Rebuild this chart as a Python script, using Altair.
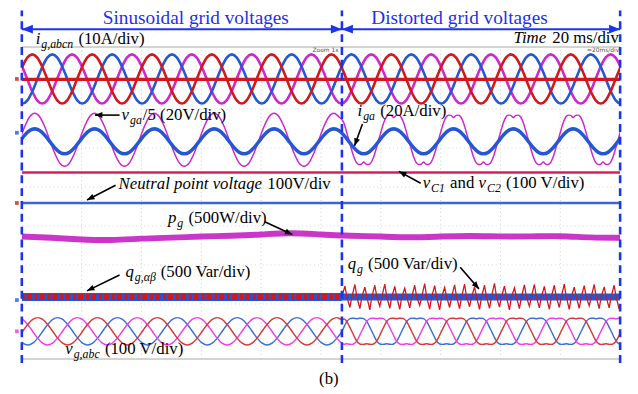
import math
import altair as alt
import pandas as pd

# ---------------- time / amplitude frame of the scope ----------------
T_END = 200.0          # 10 div x 20 ms/div
T_SWITCH = 107.0       # sinusoidal -> distorted grid voltages
PERIOD = 20.0          # 50 Hz fundamental
Q_RIPPLE_PERIOD = PERIOD / 6.0
N_DIV = 8.0

# page-pixel frame of the photographed scope (used only to place annotations)
X0, PX_PER_MS = 22.0, 606.0 / 200.0
Y_BOTTOM, PX_PER_DIV = 361.0, 39.5

# ---------------- one period of each wave shape ----------------
SINE_CYCLE = [0.0, 0.5, 0.87, 1.0, 0.87, 0.5, 0.0, -0.5, -0.87, -1.0, -0.87, -0.5]
VGA_DIST_CYCLE = [0.0, 0.33, 0.64, 0.85, 0.93, 0.92, 0.84, 0.92, 0.93, 0.85, 0.64, 0.33,
                  0.0, -0.33, -0.64, -0.85, -0.93, -0.92, -0.84, -0.92, -0.93, -0.85, -0.64, -0.33]
VG_DIST_CYCLE = [0.0, 0.38, 0.72, 0.9, 0.96, 0.95, 0.92, 0.95, 0.96, 0.9, 0.72, 0.38,
                 0.0, -0.38, -0.72, -0.9, -0.96, -0.95, -0.92, -0.95, -0.96, -0.9, -0.72, -0.38]

# ---------------- channel levels (div from bottom), amplitudes (div), peak times (ms) ----------------
I_CENTER, I_AMP = 7.18, 0.63
I_PEAK_A, I_PEAK_B, I_PEAK_C = 3.5, 10.2, 16.8
I_NEUTRAL = 7.17
VGA_CENTER, VGA_AMP, VGA_PEAK = 5.62, 0.68, 4.3
IGA_CENTER, IGA_AMP, IGA_PEAK = 5.58, 0.32, 4.3
VC_LEVEL = 4.78
NP_LEVEL = 4.0
PG_TIMES = [0, 10, 20, 30, 40, 50, 60, 70, 80, 90, 100, 110, 120, 130, 140, 150, 160, 170, 180, 190, 200]
PG_LEVELS = [3.14, 3.11, 3.06, 3.04, 3.09, 3.11, 3.14, 3.16, 3.19, 3.24, 3.19, 3.16, 3.14, 3.11,
             3.14, 3.16, 3.14, 3.14, 3.16, 3.11, 3.11]
Q_LEVEL = 1.59
Q_RIPPLE_UP = [0.28, 0.32, 0.25, 0.30, 0.33, 0.27, 0.22, 0.30, 0.34, 0.29, 0.24, 0.31, 0.33, 0.26,
               0.30, 0.35, 0.28, 0.23, 0.31, 0.32, 0.27, 0.30, 0.33, 0.25, 0.29, 0.32, 0.26, 0.30]
Q_RIPPLE_DOWN = [0.27, 0.30, 0.33, 0.24, 0.29, 0.32, 0.28, 0.22, 0.31, 0.33, 0.27, 0.30, 0.25, 0.32,
                 0.29, 0.26, 0.33, 0.30, 0.24, 0.28, 0.31, 0.27, 0.32, 0.29, 0.23, 0.30, 0.28, 0.31]
VG_CENTER, VG_AMP = 0.71, 0.35
VG_PEAK_A, VG_PEAK_B, VG_PEAK_C = 5.3, 12.0, 18.6

GRID_T = [20, 40, 60, 80, 100, 120, 140, 160, 180]
GRID_V = [0.41, 1.41, 2.41, 3.41, 4.41, 5.41, 6.41, 7.41]
SECTION_EDGES = [0.0, T_SWITCH, T_END]

# small channel markers at the left edge of the screen: (level, colour)
MARKER_LEVELS = [I_CENTER, 5.8, NP_LEVEL, Q_LEVEL - 0.08, VG_CENTER]
MARKER_COLORS = ["#d3171d", "#2456d6", "#d3171d", "#2456d6", "#e23ee0"]

RED = "#d3171d"
BLUE = "#2456d6"
MAGENTA = "#cf27cf"
PINK = "#f23ee6"
VC_COLOR = "#d81f5a"
DASH_BLUE = "#1a35f0"
TITLE_BLUE = "#1f2fe8"
FONT = "Liberation Serif"

XENC = alt.X("t:Q", scale=alt.Scale(domain=[0, T_END], nice=False, zero=False), axis=None)
YENC = alt.Y("v:Q", scale=alt.Scale(domain=[0, N_DIV], nice=False, zero=False), axis=None)


def px_t(px):
    return (px - X0) / PX_PER_MS


def py_v(py):
    return (Y_BOTTOM - py) / PX_PER_DIV


def periodic(shape, t_peak, center, amp, t_from, t_to, period=PERIOD):
    n = len(shape)
    step = period / n
    t0 = t_peak - period / 4.0
    rows = []
    m0 = math.floor((t_from - t0) / period) - 1
    m1 = math.ceil((t_to - t0) / period) + 1
    for m in range(m0, m1 + 1):
        for k, s in enumerate(shape):
            t = t0 + m * period + k * step
            if t_from <= t < t_to:
                rows.append({"t": t, "v": center + amp * s})
    return rows


def two_part(sine_shape, dist_shape, t_peak, center, amp):
    return (periodic(sine_shape, t_peak, center, amp, -6, T_SWITCH)
            + periodic(dist_shape, t_peak, center, amp, T_SWITCH, T_END + 6))


def line_layer(rows, color, width, interp="monotone", dash=None, opacity=1.0):
    kw = dict(color=color, strokeWidth=width, interpolate=interp, clip=True, opacity=opacity)
    if dash:
        kw["strokeDash"] = dash
    return alt.Chart(pd.DataFrame(rows)).mark_line(**kw).encode(x=XENC, y=YENC)


def flat(level, t_from, t_to):
    return [{"t": t_from, "v": level}, {"t": t_to, "v": level}]


layers = []

# dotted graticule and top / bottom frame lines
grid_v_df = pd.DataFrame({"t": GRID_T, "v": [0.0] * len(GRID_T), "v2": [N_DIV] * len(GRID_T)})
layers.append(alt.Chart(grid_v_df).mark_rule(color="#cfcfcf", strokeWidth=1, strokeDash=[1, 3])
              .encode(x=XENC, y=YENC, y2="v2:Q"))
grid_h_df = pd.DataFrame({"v": GRID_V, "t": [0.0] * len(GRID_V), "t2": [T_END] * len(GRID_V)})
layers.append(alt.Chart(grid_h_df).mark_rule(color="#d6d6d6", strokeWidth=1, strokeDash=[1, 3])
              .encode(x=XENC, x2="t2:Q", y=YENC))
frame_df = pd.DataFrame({"v": [0.0, N_DIV], "t": [0.0, 0.0], "t2": [T_END, T_END]})
layers.append(alt.Chart(frame_df).mark_rule(color="#c4c4c4", strokeWidth=1.5)
              .encode(x=XENC, x2="t2:Q", y=YENC))

# i_g,abcn
layers.append(line_layer(periodic(SINE_CYCLE, I_PEAK_C, I_CENTER, I_AMP, -6, T_END + 6), MAGENTA, 2.6))
layers.append(line_layer(periodic(SINE_CYCLE, I_PEAK_B, I_CENTER, I_AMP, -6, T_END + 6), BLUE, 2.6))
layers.append(line_layer(periodic(SINE_CYCLE, I_PEAK_A, I_CENTER, I_AMP, -6, T_END + 6), RED, 2.6))
layers.append(line_layer(flat(I_NEUTRAL, 0, T_END), RED, 3.2, interp="linear"))

# v_ga/5 and i_ga
layers.append(line_layer(two_part(SINE_CYCLE, VGA_DIST_CYCLE, VGA_PEAK, VGA_CENTER, VGA_AMP), MAGENTA, 1.5))
layers.append(line_layer(periodic(SINE_CYCLE, IGA_PEAK, IGA_CENTER, IGA_AMP, -6, T_END + 6), BLUE, 3.6))

# capacitor voltages and neutral point voltage
layers.append(line_layer(flat(VC_LEVEL, 0, T_END), VC_COLOR, 2.6, interp="linear"))
layers.append(line_layer(flat(NP_LEVEL, 0, T_END), "#3a66da", 2.6, interp="linear"))

# p_g
layers.append(line_layer([{"t": a, "v": b} for a, b in zip(PG_TIMES, PG_LEVELS)], "#c41fc4", 6,
                         interp="basis", opacity=0.9))

# q_g
layers.append(line_layer(flat(Q_LEVEL, 0, T_SWITCH), BLUE, 8, interp="linear"))
layers.append(line_layer(flat(Q_LEVEL, 0, T_SWITCH), RED, 6, interp="linear", dash=[3, 2, 5, 3]))
layers.append(line_layer(flat(Q_LEVEL, T_SWITCH, T_END), BLUE, 7, interp="linear"))
q_rows = []
for i, (up, dn) in enumerate(zip(Q_RIPPLE_UP, Q_RIPPLE_DOWN)):
    tc = T_SWITCH + i * Q_RIPPLE_PERIOD
    q_rows += [{"t": tc, "v": Q_LEVEL},
               {"t": tc + Q_RIPPLE_PERIOD * 0.3, "v": Q_LEVEL + up},
               {"t": tc + Q_RIPPLE_PERIOD * 0.5, "v": Q_LEVEL},
               {"t": tc + Q_RIPPLE_PERIOD * 0.8, "v": Q_LEVEL - dn}]
layers.append(line_layer(q_rows, RED, 1.3, interp="linear"))

# v_g,abc
layers.append(line_layer(two_part(SINE_CYCLE, VG_DIST_CYCLE, VG_PEAK_B, VG_CENTER, VG_AMP), "#3d6fd9", 1.5))
layers.append(line_layer(two_part(SINE_CYCLE, VG_DIST_CYCLE, VG_PEAK_C, VG_CENTER, VG_AMP), PINK, 1.5))
layers.append(line_layer(two_part(SINE_CYCLE, VG_DIST_CYCLE, VG_PEAK_A, VG_CENTER, VG_AMP), "#d63a3a", 1.5))

# channel markers
mk_df = pd.DataFrame({"t": [px_t(17)] * len(MARKER_LEVELS), "v": MARKER_LEVELS, "c": MARKER_COLORS})
layers.append(alt.Chart(mk_df).mark_square(size=14, opacity=0.8)
              .encode(x=XENC, y=YENC, color=alt.Color("c:N", scale=None)))

# section dashed lines
dash_df = pd.DataFrame({"t": SECTION_EDGES, "v": [py_v(365)] * 3, "v2": [py_v(8)] * 3})
layers.append(alt.Chart(dash_df).mark_rule(color=DASH_BLUE, strokeWidth=2.6, strokeDash=[8, 5])
              .encode(x=XENC, y=YENC, y2="v2:Q"))

# double arrows over the two sections
ARROW_Y = py_v(27)
barrow_df = pd.DataFrame({"t": [0.0, T_SWITCH], "t2": [T_SWITCH, T_END], "v": [ARROW_Y, ARROW_Y]})
layers.append(alt.Chart(barrow_df).mark_rule(color=DASH_BLUE, strokeWidth=2)
              .encode(x=XENC, x2="t2:Q", y=YENC))
HEAD = "M0,0L-0.4,1L0.4,1Z"
bhead_df = pd.DataFrame({"t": [0.0, T_SWITCH, T_SWITCH, T_END],
                         "v": [ARROW_Y] * 4, "ang": [270, 90, 270, 90]})
layers.append(alt.Chart(bhead_df).mark_point(shape=HEAD, filled=True, size=500, color=DASH_BLUE, opacity=1)
              .encode(x=XENC, y=YENC, angle=alt.Angle("ang:Q", scale=None)))

# black pointer arrows (tail -> tip, page pixels)
ARROWS = [(121, 114, 96, 114), (367, 123, 359, 145), (426, 183, 404, 171), (117, 185, 88, 200),
          (268, 222, 296, 235), (121, 276, 88, 292), (466, 268, 485, 290)]
ar_rows, ah_rows = [], []
for x1, y1, x2, y2 in ARROWS:
    ar_rows.append({"t": px_t(x1), "v": py_v(y1), "t2": px_t(x2), "v2": py_v(y2)})
    ang = math.degrees(math.atan2(x2 - x1, -(y2 - y1))) % 360
    ah_rows.append({"t": px_t(x2), "v": py_v(y2), "ang": ang})
layers.append(alt.Chart(pd.DataFrame(ar_rows)).mark_rule(color="black", strokeWidth=1.6)
              .encode(x=XENC, y=YENC, x2="t2:Q", y2="v2:Q"))
layers.append(alt.Chart(pd.DataFrame(ah_rows)).mark_point(shape=HEAD, filled=True, size=230, color="black", opacity=1)
              .encode(x=XENC, y=YENC, angle=alt.Angle("ang:Q", scale=None)))

# ---------------- text ----------------
REG_W = {' ': 0.25, '(': 0.333, ')': 0.333, '/': 0.278, 'A': 0.722, 'V': 0.722, 'W': 0.944,
         'a': 0.444, 'd': 0.5, 'i': 0.278, 'v': 0.5, 'n': 0.5, 'm': 0.778, 's': 0.389, 'r': 0.333}
IT_W = {'i': 0.278, 'g': 0.5, ',': 0.25, 'a': 0.5, 'b': 0.5, 'c': 0.444, 'n': 0.5, 'v': 0.444,
        'p': 0.5, 'q': 0.5, 'C': 0.667, 'N': 0.667, 'e': 0.444, 'u': 0.5, 't': 0.278, 'r': 0.389,
        'l': 0.278, 'o': 0.5, 'T': 0.556, 'm': 0.722, ' ': 0.25, 'α': 0.5, 'β': 0.5}
SIZE_MAIN, SIZE_SUB, SUB_DROP = 17, 12, 4

LABELS = [
    (36, 42, [("i", "i"), ("g,abcn", "s"), (" (10A/div)", "n")]),
    (520, 41, [("Time", "i"), (" 20 ms/div", "n")]),
    (123, 119, [("v", "i"), ("ga", "s"), ("/5 (20V/div)", "n")]),
    (362, 115, [("i", "i"), ("ga", "s"), (" (20A/div)", "n")]),
    (120, 189, [("Neutral point voltage", "i"), (" 100V/div", "n")]),
    (428, 188, [("v", "i"), ("C1", "s"), (" and ", "n"), ("v", "i"), ("C2", "s"), (" (100 V/div)", "n")]),
    (170, 223, [("p", "i"), ("g", "s"), (" (500W/div)", "n")]),
    (127, 278, [("q", "i"), ("g,αβ", "s"), (" (500 Var/div)", "n")]),
    (352, 270, [("q", "i"), ("g", "s"), (" (500 Var/div)", "n")]),
    (66, 356, [("v", "i"), ("g,abc", "s"), (" (100 V/div)", "n")]),
]

seg_rows = {"n": [], "i": [], "s": []}
for x, base, segs in LABELS:
    for s, kind in segs:
        if kind == "s":
            size, table, y, extra = SIZE_SUB, IT_W, base + SUB_DROP, 1
        elif kind == "i":
            size, table, y, extra = SIZE_MAIN, IT_W, base, 1
        else:
            size, table, y, extra = SIZE_MAIN, REG_W, base, 0
        lead = len(s) - len(s.lstrip(" "))
        body = s.strip(" ")
        x_text = x + lead * 0.25 * size
        seg_rows[kind].append({"t": px_t(x_text), "v": py_v(y), "text": body})
        x += size * sum(table.get(c, 0.5) for c in s) + extra


def text_layer(rows, size, style="normal", color="black", align="left", font=FONT):
    return (alt.Chart(pd.DataFrame(rows))
            .mark_text(font=font, fontSize=size, fontStyle=style, color=color, align=align,
                       baseline="alphabetic")
            .encode(x=XENC, y=YENC, text="text:N"))


layers.append(text_layer(seg_rows["n"], SIZE_MAIN))
layers.append(text_layer(seg_rows["i"], SIZE_MAIN, style="italic"))
layers.append(text_layer(seg_rows["s"], SIZE_SUB, style="italic"))
layers.append(text_layer([{"t": px_t(333), "v": py_v(386), "text": "(b)"}], SIZE_MAIN, align="center"))

TITLES = [(104, 22, "Sinusoidal grid voltages"), (376, 22, "Distorted grid voltages")]
layers.append(text_layer([{"t": px_t(x), "v": py_v(y), "text": s} for x, y, s in TITLES], 19.5,
                         color=TITLE_BLUE))
TINY = [(343, 50, "Zoom 1x"), (627, 50, "=20ms/div")]
layers.append(text_layer([{"t": px_t(x), "v": py_v(y), "text": s} for x, y, s in TINY], 6,
                         color="#555555", align="right", font="DejaVu Sans"))

chart = (alt.layer(*layers)
         .properties(width=606, height=316,
                     padding={"left": 14, "top": 37, "right": 10, "bottom": 33},
                     autosize=alt.AutoSizeParams(type="none"),
                     background="white")
         .configure_view(stroke=None))

chart.save("out.html", embed_options={"renderer": "svg", "actions": False})
